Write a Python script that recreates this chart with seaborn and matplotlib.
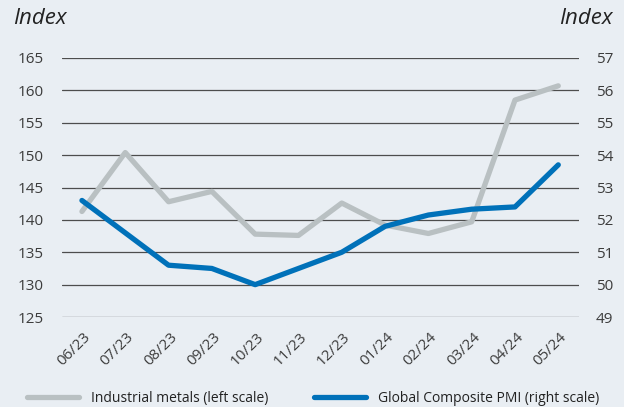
import matplotlib
matplotlib.use("Agg")
import matplotlib.pyplot as plt
import matplotlib.transforms as mtransforms
import seaborn as sns
import pandas as pd
from matplotlib.lines import Line2D

months = ["06/23", "07/23", "08/23", "09/23", "10/23", "11/23", "12/23",
          "01/24", "02/24", "03/24", "04/24", "05/24"]
metals = [141.3, 150.4, 142.8, 144.4, 137.8, 137.6, 142.6, 139.2, 137.9, 139.7, 158.5, 160.7]
pmi = [52.6, 51.6, 50.6, 50.5, 50.0, 50.5, 51.0, 51.8, 52.15, 52.33, 52.4, 53.7]
left_ticks = [125, 130, 135, 140, 145, 150, 155, 160, 165]
right_ticks = [49, 50, 51, 52, 53, 54, 55, 56, 57]

bg = "#e9eef3"
gray = "#b9c0c2"
blue = "#0071b9"
txt = "#3c3c3c"

sns.set_theme(style="white")
plt.rcParams["font.family"] = ["Open Sans", "DejaVu Sans"]

df = pd.DataFrame({"x": range(len(months)), "metals": metals, "pmi": pmi})

fig = plt.figure(figsize=(6.24, 4.07), dpi=100, facecolor=bg)
ax = fig.add_axes([0.0994, 0.2211, 0.8286, 0.6364])
ax.set_facecolor(bg)
ax2 = ax.twinx()

for y in left_ticks:
    ax.axhline(y, color="#4d4d4d", lw=0.9, zorder=0)

sns.lineplot(data=df, x="x", y="metals", ax=ax, color=gray, lw=3.8,
             solid_capstyle="round", zorder=2)
sns.lineplot(data=df, x="x", y="pmi", ax=ax2, color=blue, lw=3.8,
             solid_capstyle="round", zorder=3)

ax.set_ylim(125, 165)
ax2.set_ylim(49, 57)
ax.set_xlim(-0.46, 11.48)
ax.set_yticks(left_ticks)
ax2.set_yticks(right_ticks)
ax.set_xticks(range(len(months)))
ax.set_xticklabels(months, rotation=45, ha="right", rotation_mode="anchor")
ax.set_xlabel("")
ax.set_ylabel("")
ax2.set_ylabel("")

for a in (ax, ax2):
    for s in a.spines.values():
        s.set_visible(False)
    a.tick_params(length=0, labelsize=11, colors=txt)
ax.tick_params(axis="y", pad=13)
ax2.tick_params(axis="y", pad=12)
ax.tick_params(axis="x", pad=9)
offset = mtransforms.ScaledTranslation(1 / 100, 0, fig.dpi_scale_trans)
for lab in ax.get_xticklabels():
    lab.set_transform(lab.get_transform() + offset)

fig.text(0.021, 0.955, "Index", fontsize=16, style="italic", color="#222222",
         ha="left", va="center")
fig.text(0.981, 0.955, "Index", fontsize=16, style="italic", color="#222222",
         ha="right", va="center")

handles = [Line2D([0], [0], color=gray, lw=3.8, solid_capstyle="round"),
           Line2D([0], [0], color=blue, lw=3.8, solid_capstyle="round")]
leg = fig.legend(handles, ["Industrial metals (left scale)", "Global Composite PMI (right scale)"],
                 loc="center left", bbox_to_anchor=(0.043, 0.022), ncol=2, frameon=False,
                 fontsize=10, handlelength=3.75, columnspacing=3.3, handletextpad=0.85,
                 borderpad=0, borderaxespad=0)
for t in leg.get_texts():
    t.set_color("#222222")

fig.savefig("out.png", dpi=100, facecolor=bg)
